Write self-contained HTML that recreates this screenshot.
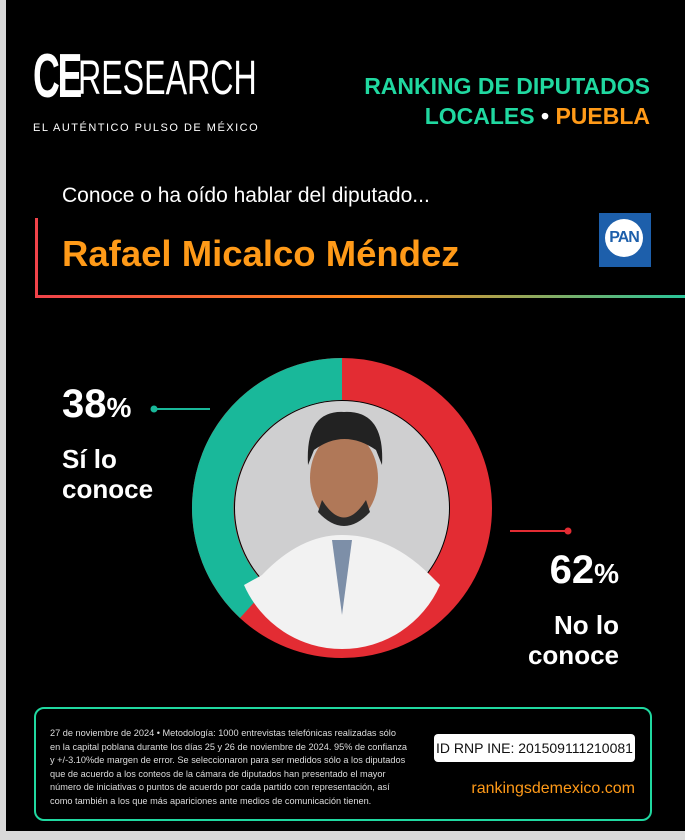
<!DOCTYPE html><html><head><meta charset="utf-8"><style>
body{margin:0;width:685px;height:840px;background:#d9d9d9;position:relative;overflow:hidden;font-family:"Liberation Sans",sans-serif}
#p{position:absolute;left:6px;top:0;width:679px;height:831px;background:#000}
.a{position:absolute;white-space:nowrap}
</style></head><body><div id="p"></div>
<div class="a" style="left:33px;top:46px;color:#fff;font-weight:bold;font-size:62px;line-height:62px;letter-spacing:-4px;transform:scaleX(0.6);transform-origin:left">CE</div>
<div class="a" style="left:78px;top:54px;color:#fff;font-size:48px;line-height:50px;transform:scaleX(0.67);transform-origin:left">RESEARCH</div>
<div class="a" style="left:33px;top:122px;color:#fff;font-size:11px;letter-spacing:1.5px">EL AUTÉNTICO PULSO DE MÉXICO</div>
<div class="a" style="right:35px;top:71px;color:#20d8a0;font-weight:bold;font-size:23px;text-align:right;line-height:30px">RANKING DE DIPUTADOS<br>LOCALES <span style="color:#fff">•</span> <span style="color:#ff9a18">PUEBLA</span></div>
<div class="a" style="left:62px;top:184px;color:#fff;font-size:21px">Conoce o ha oído hablar del diputado...</div>
<div class="a" style="left:62px;top:233px;color:#ff9a18;font-weight:bold;font-size:36.5px">Rafael Micalco Méndez</div>
<div class="a" style="left:35px;top:218px;width:660px;height:77px;border-left:3px solid #f0434a;border-bottom:3px solid;border-image:linear-gradient(90deg,#f0434a,#ff8a1a 50%,#20c8a0) 1;border-radius:0 0 0 8px"></div>
<div class="a" style="left:599px;top:213px;width:52px;height:54px;background:#1d5fab"><div style="margin:6px;width:38px;height:38px;border-radius:50%;background:#fff;color:#1d5fab;font-weight:bold;font-size:16px;line-height:38px;text-align:center;letter-spacing:-1px">PAN</div></div>
<svg class="a" style="left:0;top:0" width="685" height="840">
<circle cx="342" cy="508" r="129" fill="none" stroke="#e32c33" stroke-width="42"/>
<path d="M342 358 A150 150 0 0 0 240 618 L268 587 A108 108 0 0 1 342 400Z" fill="#19b89a"/>
<circle cx="342" cy="508" r="107" fill="#cfcfd0"/>
<path d="M262 575 Q300 535 342 535 Q390 535 430 575 L440 585 A107 107 0 0 1 244 585Z" fill="#f2f2f2"/>
<path d="M332 540 L342 615 L352 540Z" fill="#7d8fa8"/>
<ellipse cx="344" cy="478" rx="34" ry="46" fill="#b07858"/>
<path d="M308 465 Q305 410 344 412 Q385 410 382 465 L376 450 Q344 428 314 450Z" fill="#222"/>
<path d="M322 500 Q344 535 366 500 L370 512 Q344 540 318 512Z" fill="#2a2a2a"/>
<line x1="153" y1="409" x2="210" y2="409" stroke="#19b89a" stroke-width="2"/><circle cx="154" cy="409" r="3.5" fill="#19b89a"/>
<line x1="510" y1="531" x2="568" y2="531" stroke="#e32c33" stroke-width="2"/><circle cx="568" cy="531" r="3.5" fill="#e32c33"/>
</svg>
<div class="a" style="left:62px;top:382px;color:#fff;font-weight:bold;font-size:40px">38<span style="font-size:28px">%</span></div>
<div class="a" style="left:62px;top:444px;color:#fff;font-weight:bold;font-size:26px;line-height:30px">Sí lo<br>conoce</div>
<div class="a" style="right:66px;top:548px;color:#fff;font-weight:bold;font-size:40px">62<span style="font-size:28px">%</span></div>
<div class="a" style="right:66px;top:610px;color:#fff;font-weight:bold;font-size:26px;line-height:30px;text-align:right">No lo<br>conoce</div>
<div class="a" style="left:34px;top:707px;width:614px;height:110px;border:2px solid #20d8a0;border-radius:10px"></div>
<div class="a" style="left:50px;top:727px;color:#ddd;font-size:9.2px;line-height:13.6px">27 de noviembre de 2024 • Metodología: 1000 entrevistas telefónicas realizadas sólo<br>en la capital poblana durante los días 25 y 26 de noviembre de 2024. 95% de confianza<br>y +/-3.10%de margen de error. Se seleccionaron para ser medidos sólo a los diputados<br>que de acuerdo a los conteos de la cámara de diputados han presentado el mayor<br>número de iniciativas o puntos de acuerdo por cada partido con representación, así<br>como también a los que más apariciones ante medios de comunicación tienen.</div>
<div class="a" style="left:434px;top:734px;width:201px;height:28px;background:#fff;border-radius:4px;color:#111;font-size:14px;line-height:28px;text-align:center">ID RNP INE: 201509111210081</div>
<div class="a" style="right:50px;top:780px;color:#ff9a18;font-size:16px">rankingsdemexico.com</div>
</body></html>
